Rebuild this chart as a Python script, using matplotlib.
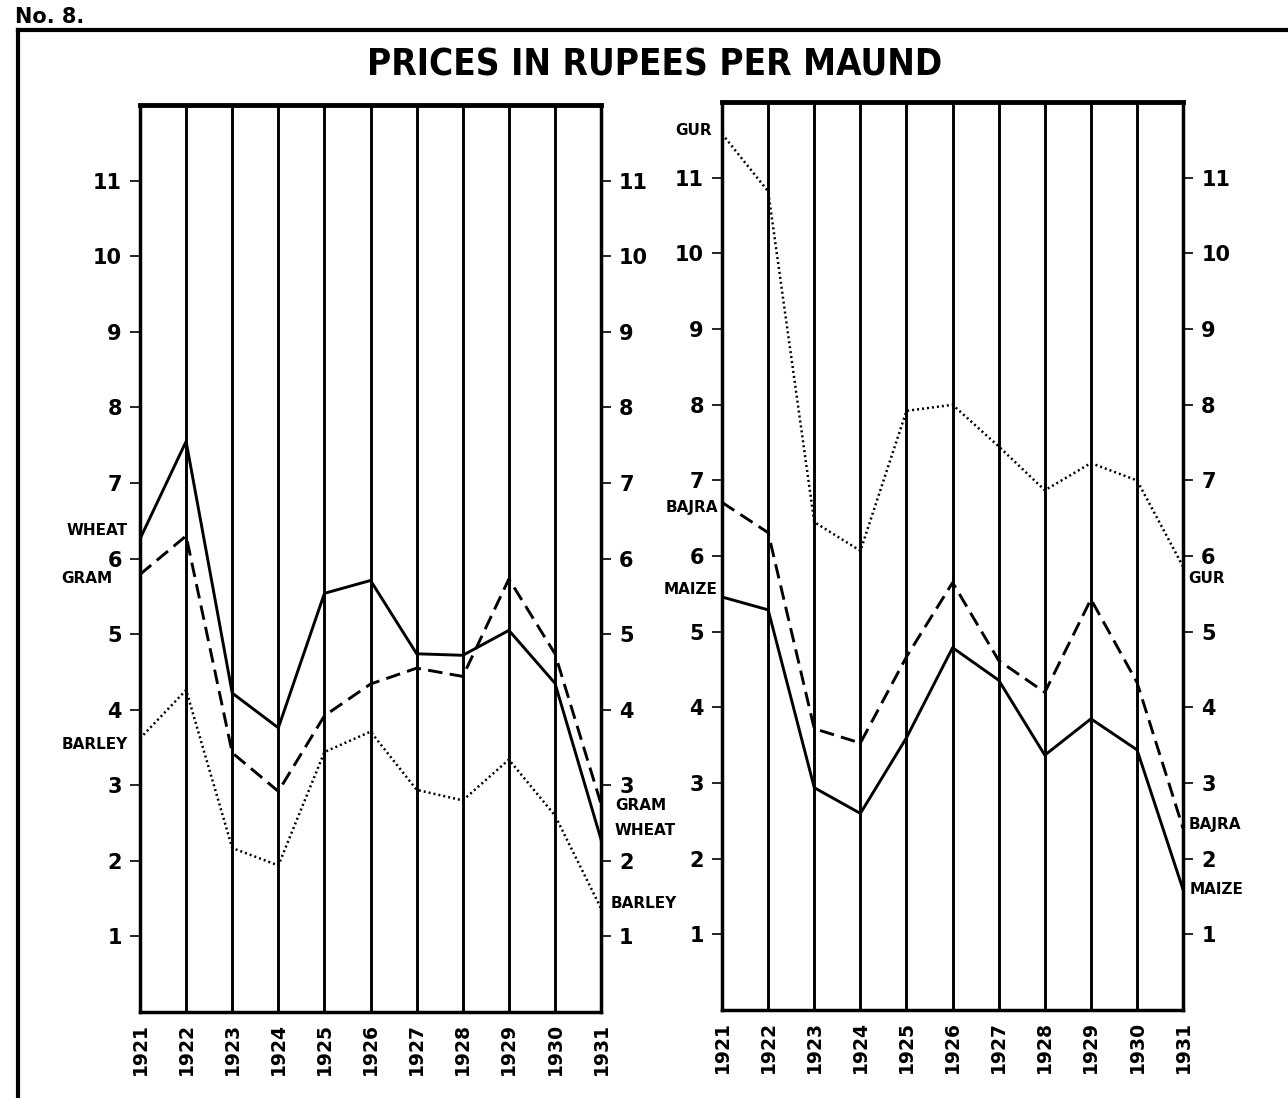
import matplotlib
matplotlib.use("Agg")
import matplotlib.pyplot as plt
from matplotlib.lines import Line2D

years = list(range(1921, 1932))

# left panel
wheat = [6.26, 7.55, 4.22, 3.76, 5.54, 5.71, 4.74, 4.72, 5.05, 4.35, 2.28]
gram = [5.79, 6.30, 3.43, 2.92, 3.92, 4.34, 4.55, 4.44, 5.73, 4.74, 2.75]
barley = [3.62, 4.26, 2.17, 1.94, 3.44, 3.71, 2.94, 2.80, 3.34, 2.60, 1.37]

# right panel
gur = [11.58, 10.82, 6.45, 6.07, 7.92, 8.00, 7.45, 6.87, 7.23, 7.00, 5.86]
bajra = [6.71, 6.31, 3.72, 3.53, 4.67, 5.65, 4.62, 4.20, 5.43, 4.33, 2.40]
maize = [5.46, 5.29, 2.94, 2.60, 3.60, 4.79, 4.36, 3.37, 3.85, 3.44, 1.59]

yticks = list(range(1, 12))

plt.rcParams["font.family"] = ["DejaVu Sans"]
plt.rcParams["font.weight"] = "bold"

fig = plt.figure(figsize=(12.88, 10.98), dpi=100)
axL = fig.add_axes([0.1087, 0.0783, 0.358, 0.826])
axR = fig.add_axes([0.5606, 0.0800, 0.358, 0.827])

solid = dict(color="black", lw=2.1, ls="-")
dashed = dict(color="black", lw=2.1, ls=(0, (5, 2.5)))
dotted = dict(color="black", lw=1.8, ls=(0, (0.8, 1.2)))


def setup(ax):
    ax.set_xlim(1921, 1931)
    ax.set_ylim(0, 12)
    for yr in years[1:-1]:
        ax.axvline(yr, color="black", lw=2.1, zorder=1)
    for side, sp in ax.spines.items():
        sp.set_linewidth(2.5)
    ax.spines["top"].set_linewidth(3.5)
    ax.set_xticks(years)
    ax.set_xticklabels([str(y) for y in years], rotation=90,
                       fontsize=13.5, fontweight="bold")
    ax.set_yticks(yticks)
    ax.set_yticklabels([str(v) for v in yticks], fontsize=15,
                       fontweight="bold")
    ax.tick_params(axis="x", length=0, pad=8)
    ax.tick_params(axis="y", direction="out", length=7, width=1.2,
                   left=True, right=True, labelleft=True,
                   labelright=True, pad=6)


setup(axL)
setup(axR)

axL.plot(years, wheat, **solid, zorder=3)
axL.plot(years, gram, **dashed, zorder=3)
axL.plot(years, barley, **dotted, zorder=3)

axR.plot(years, gur, **dotted, zorder=3)
axR.plot(years, bajra, **dashed, zorder=3)
axR.plot(years, maize, **solid, zorder=3)

lab = dict(fontsize=11, fontweight="bold", va="center", clip_on=False)
tL = axL.get_yaxis_transform()
tR = axR.get_yaxis_transform()
axL.text(-0.026, 6.37, "WHEAT", ha="right", transform=tL, **lab)
axL.text(-0.059, 5.73, "GRAM", ha="right", transform=tL, **lab)
axL.text(-0.026, 3.54, "BARLEY", ha="right", transform=tL, **lab)
axL.text(1.03, 2.73, "GRAM", ha="left", transform=tL, **lab)
axL.text(1.03, 2.40, "WHEAT", ha="left", transform=tL, **lab)
axL.text(1.02, 1.43, "BARLEY", ha="left", transform=tL, **lab)

axR.text(-0.022, 11.63, "GUR", ha="right", transform=tR, **lab)
axR.text(-0.009, 6.64, "BAJRA", ha="right", transform=tR, **lab)
axR.text(-0.009, 5.56, "MAIZE", ha="right", transform=tR, **lab)
axR.text(1.011, 5.70, "GUR", ha="left", transform=tR, **lab)
axR.text(1.011, 2.45, "BAJRA", ha="left", transform=tR, **lab)
axR.text(1.015, 1.60, "MAIZE", ha="left", transform=tR, **lab)

fig.text(0.508, 0.941, "PRICES IN RUPEES PER MAUND", ha="center",
         va="center", fontsize=26.5, fontweight="bold",
         fontstretch="condensed")
fig.text(0.012, 0.979, "No. 8.", ha="left", va="baseline",
         fontsize=15, fontweight="bold")

# outer frame of the plate
fig.add_artist(Line2D([0.014, 1.0], [0.9727, 0.9727], color="black",
                      lw=3, transform=fig.transFigure))
fig.add_artist(Line2D([0.014, 0.014], [0.9727, 0.0], color="black",
                      lw=3, transform=fig.transFigure))

fig.savefig("out.png", dpi=100, facecolor="white")
